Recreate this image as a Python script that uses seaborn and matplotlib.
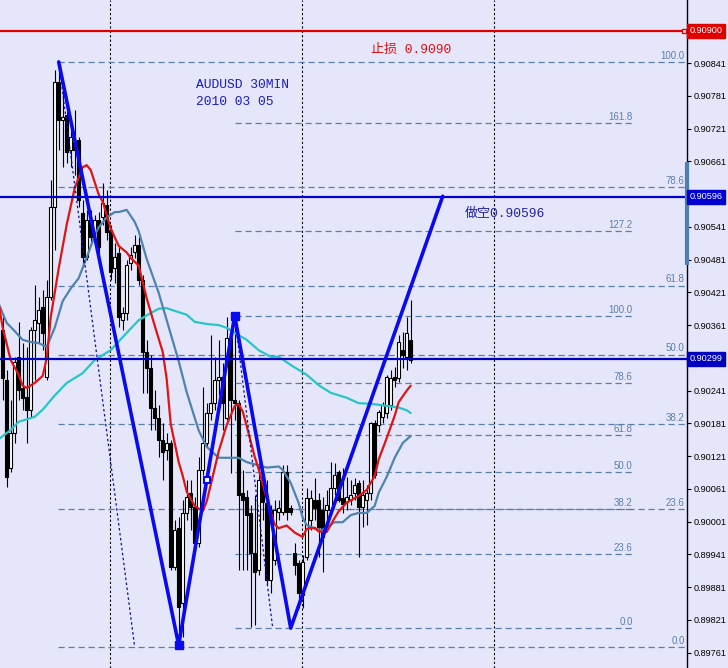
import numpy as np
import pandas as pd
import matplotlib
matplotlib.use("Agg")
import matplotlib.pyplot as plt
import matplotlib.transforms as mtransforms
import seaborn as sns

# AUDUSD 30MIN bars, 2010-03-05
opens = [0.90352, 0.90261, 0.90099, 0.90163, 0.90302, 0.90246, 0.90229, 0.90206, 0.90352, 0.90365,
         0.90394, 0.90266, 0.90413, 0.90577, 0.90806, 0.90737, 0.90746, 0.90682, 0.90696, 0.90700,
         0.90566, 0.90486, 0.90554, 0.90532, 0.90554, 0.90559, 0.90581, 0.90535, 0.90466, 0.90493,
         0.90370, 0.90383, 0.90475, 0.90495, 0.90508, 0.90444, 0.90312, 0.90282, 0.90209, 0.90191,
         0.90151, 0.90132, 0.90145, 0.89918, 0.89989, 0.89852, 0.90017, 0.90054, 0.90028, 0.89962,
         0.90096, 0.90145, 0.90200, 0.90218, 0.90261, 0.90266, 0.90191, 0.90337, 0.90224, 0.90218,
         0.90054, 0.90046, 0.90017, 0.89944, 0.89912, 0.90077, 0.90035, 0.89894, 0.89931, 0.90019,
         0.90019, 0.90092, 0.90026, 0.89944, 0.89925, 0.89867, 0.89936, 0.90004, 0.90041, 0.90041,
         0.90022, 0.90022, 0.90022, 0.90063, 0.90092, 0.90044, 0.90037, 0.90041, 0.90054, 0.90072,
         0.90028, 0.90041, 0.90054, 0.90182, 0.90178, 0.90193, 0.90200, 0.90215, 0.90266, 0.90264,
         0.90315, 0.90303, 0.90334]
highs = [0.90376, 0.90279, 0.90224, 0.90303, 0.90367, 0.90328, 0.90321, 0.90358, 0.90434, 0.90413,
         0.90425, 0.90444, 0.90627, 0.90828, 0.90843, 0.90792, 0.90760, 0.90724, 0.90755, 0.90706,
         0.90590, 0.90572, 0.90572, 0.90563, 0.90568, 0.90621, 0.90608, 0.90544, 0.90511, 0.90504,
         0.90394, 0.90480, 0.90504, 0.90526, 0.90522, 0.90453, 0.90334, 0.90306, 0.90242, 0.90215,
         0.90182, 0.90163, 0.90151, 0.90004, 0.90010, 0.90041, 0.90077, 0.90077, 0.90046, 0.90119,
         0.90248, 0.90218, 0.90343, 0.90303, 0.90334, 0.90292, 0.90376, 0.90352, 0.90378, 0.90224,
         0.90096, 0.90059, 0.90032, 0.90050, 0.90109, 0.90096, 0.90077, 0.90032, 0.90041, 0.90041,
         0.90105, 0.90105, 0.90032, 0.89962, 0.89931, 0.89940, 0.90063, 0.90059, 0.90081, 0.90054,
         0.90046, 0.90059, 0.90110, 0.90109, 0.90096, 0.90099, 0.90083, 0.90077, 0.90081, 0.90077,
         0.90077, 0.90068, 0.90184, 0.90187, 0.90206, 0.90220, 0.90270, 0.90279, 0.90284, 0.90343,
         0.90348, 0.90376, 0.90407]
lows = [0.90224, 0.90064, 0.90092, 0.90145, 0.90224, 0.90206, 0.90145, 0.90193, 0.90261, 0.90328,
        0.90315, 0.90261, 0.90407, 0.90499, 0.90682, 0.90651, 0.90658, 0.90651, 0.90636, 0.90577,
        0.90467, 0.90480, 0.90508, 0.90517, 0.90489, 0.90544, 0.90517, 0.90444, 0.90438, 0.90358,
        0.90352, 0.90370, 0.90462, 0.90484, 0.90434, 0.90237, 0.90237, 0.90169, 0.90169, 0.90119,
        0.90077, 0.90114, 0.89912, 0.89912, 0.89775, 0.89790, 0.90004, 0.89986, 0.89955, 0.89955,
        0.90086, 0.90138, 0.90187, 0.90206, 0.90233, 0.90169, 0.90187, 0.90090, 0.90187, 0.89912,
        0.89912, 0.89912, 0.89808, 0.89812, 0.89903, 0.90004, 0.89885, 0.89870, 0.89922, 0.90004,
        0.90013, 0.90004, 0.90013, 0.89903, 0.89843, 0.89843, 0.89931, 0.89986, 0.90004, 0.89936,
        0.89909, 0.90004, 0.90017, 0.90050, 0.90037, 0.90017, 0.90022, 0.90032, 0.90041, 0.89936,
        0.89991, 0.89995, 0.90041, 0.90081, 0.90165, 0.90182, 0.90191, 0.90206, 0.90248, 0.90257,
        0.90282, 0.90279, 0.90292]
closes = [0.90264, 0.90083, 0.90163, 0.90293, 0.90242, 0.90228, 0.90206, 0.90352, 0.90370, 0.90389,
          0.90347, 0.90413, 0.90577, 0.90806, 0.90737, 0.90742, 0.90678, 0.90706, 0.90682, 0.90590,
          0.90486, 0.90554, 0.90522, 0.90554, 0.90504, 0.90585, 0.90532, 0.90458, 0.90486, 0.90376,
          0.90383, 0.90471, 0.90489, 0.90508, 0.90444, 0.90312, 0.90282, 0.90209, 0.90191, 0.90151,
          0.90129, 0.90145, 0.89918, 0.89986, 0.89845, 0.90017, 0.90046, 0.90028, 0.89962, 0.90096,
          0.90145, 0.90200, 0.90218, 0.90261, 0.90266, 0.90218, 0.90337, 0.90224, 0.90218, 0.90050,
          0.90041, 0.90013, 0.89944, 0.89909, 0.90077, 0.90037, 0.89894, 0.90022, 0.90022, 0.90026,
          0.90092, 0.90019, 0.90019, 0.89922, 0.89870, 0.89927, 0.90044, 0.90044, 0.90026, 0.89991,
          0.89973, 0.90032, 0.90063, 0.90086, 0.90041, 0.90033, 0.90046, 0.90050, 0.90068, 0.90028,
          0.90050, 0.90054, 0.90182, 0.90086, 0.90202, 0.90215, 0.90266, 0.90264, 0.90261, 0.90330,
          0.90306, 0.90347, 0.90297]

# moving averages (bar index -> value)
red_ma_bar = [-1, 0, 2, 4, 5, 6, 8, 10, 11, 12, 14, 16, 18, 20, 21, 22, 24, 25, 27, 29, 31, 32, 34,
              36, 38, 40, 41, 42, 44, 45, 46, 48, 50, 51, 52, 54, 56, 58, 59, 60, 61, 63, 64, 66, 68,
              69, 71, 73, 75, 76, 78, 79, 81, 83, 84, 86, 89, 91, 93, 94, 96, 98, 99, 101, 102]
red_ma = [0.90400, 0.90356, 0.90297, 0.90270, 0.90250, 0.90246, 0.90255, 0.90268, 0.90300, 0.90375,
          0.90465, 0.90545, 0.90612, 0.90650, 0.90654, 0.90645, 0.90600, 0.90587, 0.90538, 0.90506,
          0.90494, 0.90484, 0.90470, 0.90410, 0.90360, 0.90312, 0.90262, 0.90180, 0.90110, 0.90085,
          0.90056, 0.90030, 0.90020, 0.90038, 0.90068, 0.90130, 0.90178, 0.90213, 0.90216, 0.90203,
          0.90176, 0.90120, 0.90097, 0.90043, 0.89996, 0.89989, 0.89994, 0.89981, 0.89973, 0.89988,
          0.89990, 0.89983, 0.89982, 0.90008, 0.90020, 0.90036, 0.90048, 0.90059, 0.90085, 0.90115,
          0.90154, 0.90195, 0.90220, 0.90241, 0.90250]

blue_ma_bar = [-1, 1, 3, 5, 7, 9, 11, 13, 15, 17, 19, 21, 23, 24, 26, 28, 29, 31, 33, 34, 36, 39,
               41, 44, 46, 49, 51, 54, 56, 59, 61, 64, 66, 69, 70, 72, 74, 75, 76, 78, 80, 81, 83,
               85, 87, 89, 91, 93, 94, 96, 98, 100, 102]
blue_ma = [0.90400, 0.90365, 0.90350, 0.90334, 0.90330, 0.90328, 0.90321, 0.90356, 0.90405, 0.90428,
           0.90447, 0.90485, 0.90525, 0.90540, 0.90558, 0.90568, 0.90568, 0.90572, 0.90550, 0.90533,
           0.90482, 0.90420, 0.90370, 0.90295, 0.90238, 0.90168, 0.90138, 0.90118, 0.90118, 0.90118,
           0.90110, 0.90104, 0.90100, 0.90102, 0.90096, 0.90072, 0.90035, 0.90008, 0.89995, 0.89988,
           0.89986, 0.89991, 0.90000, 0.90000, 0.90013, 0.90017, 0.90017, 0.90030, 0.90054, 0.90083,
           0.90118, 0.90145, 0.90158]

cyan_ma_bar = [-1, 2, 4, 8, 10, 13, 16, 20, 23, 27, 30, 34, 37, 39, 41, 43, 46, 48, 51, 54, 56, 58,
               61, 64, 67, 69, 72, 76, 79, 82, 86, 89, 92, 96, 99, 101, 102]
cyan_ma = [0.90152, 0.90169, 0.90184, 0.90193, 0.90206, 0.90232, 0.90255, 0.90273, 0.90297, 0.90315,
           0.90339, 0.90370, 0.90383, 0.90391, 0.90392, 0.90387, 0.90380, 0.90367, 0.90363, 0.90361,
           0.90356, 0.90347, 0.90334, 0.90315, 0.90303, 0.90303, 0.90288, 0.90270, 0.90251, 0.90237,
           0.90228, 0.90218, 0.90217, 0.90213, 0.90210, 0.90205, 0.90200]

# hand drawn zigzag and projection lines
zigzag_bar = [14, 44, 58, 72, 110]
zigzag_price = [0.90843, 0.89775, 0.90378, 0.89806, 0.90597]
proj1_bar = [14, 33]
proj1_price = [0.90843, 0.89771]
proj2_bar = [58, 67.5]
proj2_price = [0.90378, 0.89806]

# fibonacci retracements
fib_a_high, fib_a_low = 0.90843, 0.89771
fib_a_levels = [0.0, 23.6, 38.2, 50.0, 61.8, 78.6, 100.0]
fib_b_high, fib_b_low = 0.90378, 0.89806
fib_b_levels = [0.0, 23.6, 38.2, 50.0, 61.8, 78.6, 100.0, 127.2, 161.8]

stop_price = 0.90900
short_price = 0.90596
bid_price = 0.90299

price_ticks = [0.90841, 0.90781, 0.90721, 0.90661, 0.90541, 0.90481, 0.90421, 0.90361,
               0.90241, 0.90181, 0.90121, 0.90061, 0.90001, 0.89941, 0.89881, 0.89821, 0.89761]

# ---------------------------------------------------------------
sns.set_style("white")
plt.rcParams["font.family"] = ["Liberation Sans", "Noto Sans CJK SC"]
MONO = ["Liberation Mono", "Noto Sans CJK SC"]

BG = "#e6e6fa"
FIB = "#5b80a8"

fig = plt.figure(figsize=(7.28, 6.68), dpi=100, facecolor=BG)
ax = fig.add_axes([0, 0, 687 / 728, 1])
ax.set_facecolor(BG)
ax.set_xlim(-0.675, 171.075)
ax.set_ylim(0.89733, 0.909564)
blend = mtransforms.blended_transform_factory(ax.transAxes, ax.transData)

# time grid
for gx in [26.8, 74.8, 122.8]:
    ax.axvline(gx, color="black", lw=0.8, ls=(0, (2, 2)), zorder=1)

# fib levels
for lv in fib_a_levels:
    p = fib_a_low + lv / 100 * (fib_a_high - fib_a_low)
    ax.hlines(p, 13.8, 171.1, color=FIB, lw=0.9, ls=(0, (5, 3)), zorder=1)
    ax.text(170.5, p + 0.00002, f"{lv:.1f}", color=FIB, fontsize=7, ha="right", va="bottom", zorder=2)
for lv in fib_b_levels:
    p = fib_b_low + lv / 100 * (fib_b_high - fib_b_low)
    ax.hlines(p, 58.1, 157.3, color=FIB, lw=0.9, ls=(0, (5, 3)), zorder=1)
    ax.text(157.5, p + 0.00002, f"{lv:.1f}", color=FIB, fontsize=7, ha="right", va="bottom", zorder=2)

# moving averages
sns.lineplot(x=cyan_ma_bar, y=cyan_ma, ax=ax, color="#27c6c6", lw=1.6, zorder=5)
sns.lineplot(x=blue_ma_bar, y=blue_ma, ax=ax, color="#4f83ad", lw=1.6, zorder=5)
sns.lineplot(x=red_ma_bar, y=red_ma, ax=ax, color="#e01414", lw=1.6, zorder=5)

# candles
o = np.array(opens)
h = np.array(highs)
l = np.array(lows)
c = np.array(closes)
bars = np.arange(len(o))
up = c >= o
ax.vlines(bars, l, h, color="black", lw=0.8, zorder=3)
lo = np.minimum(o, c)
hh = np.maximum(np.abs(c - o), 0.000012)
ax.bar(bars[up], hh[up], bottom=lo[up], width=0.68, color="white", edgecolor="black", lw=0.8, zorder=4)
ax.bar(bars[~up], hh[~up], bottom=lo[~up], width=0.68, color="black", edgecolor="black", lw=0.8, zorder=4)

# horizontal levels
ax.axhline(stop_price, color="#e00000", lw=1.6, zorder=6)
ax.axhline(short_price, color="#0000d0", lw=1.6, zorder=6)
ax.axhline(bid_price, color="#0000c0", lw=1.6, zorder=6)
ax.plot([170.3], [stop_price], marker="s", ms=3.5, mfc="white", mec="#e00000", mew=1, zorder=7)

# zigzag and projections
sns.lineplot(x=proj1_bar, y=proj1_price, ax=ax, sort=False, color="#1010a0", lw=0.9, ls=(0, (2, 2)), zorder=6)
sns.lineplot(x=proj2_bar, y=proj2_price, ax=ax, sort=False, color="#1010a0", lw=0.9, ls=(0, (2, 2)), zorder=6)
sns.lineplot(x=zigzag_bar, y=zigzag_price, ax=ax, sort=False, color="#0a0aee", lw=2.6, zorder=8)
ax.plot(zigzag_bar[1:3], zigzag_price[1:3], ls="none", marker="s", ms=6, color="#0a0aee", zorder=9)
ax.plot([51], [0.90077], marker="s", ms=5, mfc="white", mec="#0a0aee", mew=1.5, zorder=9)

# annotations
ax.text(48.3, 0.90800, "AUDUSD 30MIN", family=MONO, fontsize=9.4, color="#1c1cc8", va="center", ha="left")
ax.text(48.3, 0.90770, "2010 03 05", family=MONO, fontsize=9.4, color="#1c1cc8", va="center", ha="left")
ax.text(92.1, 0.90865, "止损 0.9090", family=MONO, fontsize=9.4, color="#e01010", va="center", ha="left")
ax.text(115.6, 0.90564, "做空0.90596", family=MONO, fontsize=9.4, color="#2020b0", va="center", ha="left")

# right price scale
ax.yaxis.tick_right()
ax.set_yticks(price_ticks)
ax.set_yticklabels([f"{t:.5f}" for t in price_ticks])
ax.tick_params(axis="y", labelsize=6.6, length=3, width=0.8, pad=2, colors="black")
ax.set_xticks([])
for side in ["top", "bottom", "left"]:
    ax.spines[side].set_visible(False)
ax.spines["right"].set_color("black")
ax.spines["right"].set_linewidth(1)

for price, col in [(stop_price, "#e00000"), (short_price, "#0000d0"), (bid_price, "#0000c0")]:
    ax.text(1.004, price, f"{price:.5f}", transform=blend, fontsize=6.6, color="white", va="center",
            ha="left", clip_on=False, zorder=10,
            bbox=dict(boxstyle="square,pad=0.25", fc=col, ec=col))
ax.plot([1, 1], [0.90471, 0.90660], transform=blend, lw=3, color="#4f7fae", clip_on=False,
        solid_capstyle="butt", zorder=9)

fig.savefig("out.png", dpi=100, facecolor=BG)
